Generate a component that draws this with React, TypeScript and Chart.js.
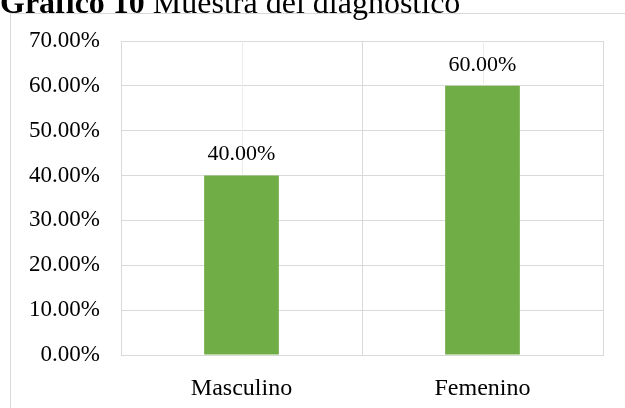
import React, { useEffect, useRef } from "react";
import { Chart, registerables } from "chart.js";

Chart.register(...registerables);

const categories = ["Masculino", "Femenino"];
const values = [40, 60];
const yTicks = [0, 10, 20, 30, 40, 50, 60, 70];

const GRID = "#d9d9d9";
const FONT = "'Liberation Serif', 'Times New Roman', serif";

const centerLines = {
  id: "centerLines",
  beforeDatasetsDraw(chart: any) {
    const { ctx, chartArea, scales } = chart;
    const x = scales.x;
    ctx.save();
    ctx.strokeStyle = "#ececec";
    ctx.lineWidth = 1;
    categories.forEach((_, i) => {
      const px = Math.round(x.getPixelForValue(i)) + 0.5;
      ctx.beginPath();
      ctx.moveTo(px, chartArea.top);
      ctx.lineTo(px, chartArea.bottom);
      ctx.stroke();
    });
    ctx.restore();
  },
};

const dataLabels = {
  id: "dataLabels",
  afterDatasetsDraw(chart: any) {
    const { ctx } = chart;
    const meta = chart.getDatasetMeta(0);
    ctx.save();
    ctx.fillStyle = "#000";
    ctx.font = `22px ${FONT}`;
    ctx.textAlign = "center";
    ctx.textBaseline = "bottom";
    meta.data.forEach((bar: any, i: number) => {
      ctx.fillText(values[i].toFixed(2) + "%", bar.x, bar.y - 10);
    });
    ctx.restore();
  },
};

export default function App() {
  const ref = useRef<HTMLCanvasElement>(null);
  useEffect(() => {
    if (!ref.current) return;
    const chart = new Chart(ref.current, {
      type: "bar",
      data: {
        labels: categories,
        datasets: [
          {
            data: values,
            backgroundColor: "#70ad47",
            borderWidth: 0,
            categoryPercentage: 1,
            barPercentage: 0.31,
          },
        ],
      },
      options: {
        animation: false,
        responsive: false,
        devicePixelRatio: 1,
        layout: { padding: { left: 0, right: 22, top: 41, bottom: 0 } },
        plugins: {
          legend: { display: false },
          tooltip: { enabled: false },
          title: { display: false },
        },
        scales: {
          x: {
            afterFit: (axis: any) => {
              axis.height = 53;
            },
            grid: { color: GRID, offset: true, drawTicks: false },
            border: { color: GRID },
            ticks: {
              color: "#000",
              font: { family: FONT, size: 24 },
              padding: 19,
            },
          },
          y: {
            min: 0,
            max: 70,
            afterBuildTicks: (axis: any) => {
              axis.ticks = yTicks.map((v) => ({ value: v }));
            },
            afterFit: (axis: any) => {
              axis.width = 121;
            },
            grid: { color: GRID, drawTicks: false },
            border: { color: GRID },
            ticks: {
              color: "#000",
              font: { family: FONT, size: 23 },
              padding: 21,
              callback: (v: any) => Number(v).toFixed(2) + "%",
            },
          },
        },
      },
      plugins: [centerLines, dataLabels],
    });
    return () => chart.destroy();
  }, []);

  return (
    <div
      style={{
        position: "fixed",
        left: 0,
        top: 0,
        width: 625,
        height: 408,
        background: "#fff",
        overflow: "hidden",
      }}
    >
      <div
        style={{
          position: "absolute",
          left: 10,
          top: 13,
          width: 700,
          height: 500,
          border: `1px solid ${GRID}`,
          boxSizing: "border-box",
        }}
      />
      <canvas
        ref={ref}
        width={625}
        height={408}
        style={{ position: "absolute", left: 0, top: 0 }}
      />
      <div
        style={{
          position: "absolute",
          left: 0,
          top: -14,
          fontFamily: FONT,
          fontSize: 32,
          lineHeight: "32px",
          whiteSpace: "nowrap",
          color: "#000",
          background: "transparent",
        }}
      >
        <b>Gráfico 10</b> Muestra del diagnóstico
      </div>
    </div>
  );
}
